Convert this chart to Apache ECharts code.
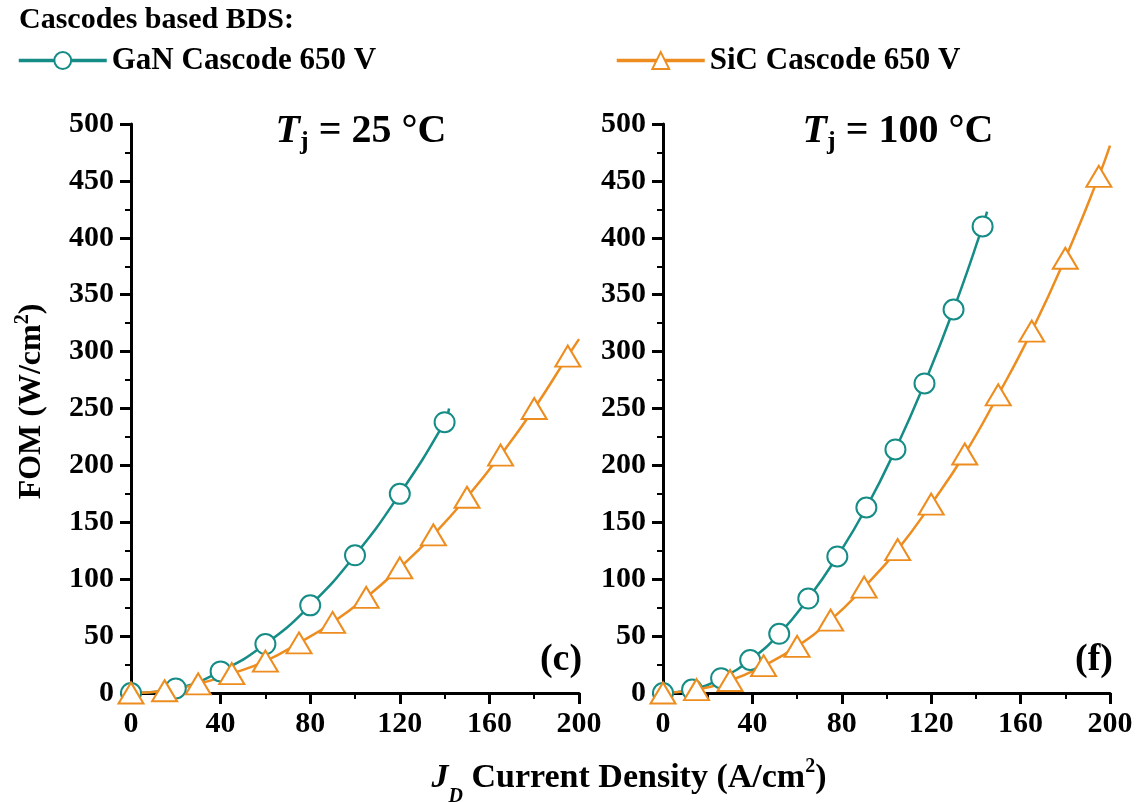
<!DOCTYPE html>
<html>
<head>
<meta charset="utf-8">
<script src="https://cdn.jsdelivr.net/npm/echarts@6/dist/echarts.min.js"></script>
<style>
html,body{margin:0;padding:0;background:#fff;}
#chart{width:1142px;height:802px;}
</style>
</head>
<body>
<div id="chart"></div>
<script>
// ---- Data ----
const seriesNames = ['GaN Cascode 650 V', 'SiC Cascode 650 V'];
const xTicks = [0, 40, 80, 120, 160, 200];
const yTicks = [0, 50, 100, 150, 200, 250, 300, 350, 400, 450, 500];

// Tj = 25 °C
const gan25X = [0, 20, 40, 60, 80, 100, 120, 140];
const gan25Y = [0, 4, 19, 43, 77, 121, 175, 238];
const gan25End = [142, 250];
const sic25X = [0, 15, 30, 45, 60, 75, 90, 105, 120, 135, 150, 165, 180, 195];
const sic25Y = [0, 2, 8, 17, 28, 44, 62, 84, 110, 139, 172, 209, 250, 296];
const sic25End = [200, 311];

// Tj = 100 °C
const gan100X = [0, 13, 26, 39, 52, 65, 78, 91, 104, 117, 130, 143];
const gan100Y = [0, 3, 13, 29, 52, 83, 120, 163, 214, 272, 337, 410];
const gan100End = [145, 423];
const sic100X = [0, 15, 30, 45, 60, 75, 90, 105, 120, 135, 150, 165, 180, 195];
const sic100Y = [0, 3, 11, 24, 41, 64, 93, 126, 166, 210, 262, 318, 382, 454];
const sic100End = [200, 481];

// ---- Styling ----
const FONT = "'Liberation Serif','Times New Roman',serif";
const TEAL = '#168c86';
const ORANGE = '#ee8d1f';

function buildData(xs, ys, end) {
  const d = xs.map((x, i) => [x, ys[i]]);
  d.push({ value: end, symbol: 'none' });
  return d;
}

function makeX(gridIndex) {
  return {
    type: 'value', gridIndex, min: 0, max: 200, interval: 40,
    axisLine: { show: true, onZero: false, lineStyle: { color: '#000', width: 3 } },
    axisTick: { show: true, length: 11, lineStyle: { color: '#000', width: 3 } },
    minorTick: { show: true, splitNumber: 2, length: 6, lineStyle: { color: '#000', width: 2 } },
    splitLine: { show: false },
    axisLabel: {
      margin: 16, color: '#000', fontFamily: FONT, fontWeight: 'bold', fontSize: 30,
      formatter: v => (xTicks.indexOf(v) >= 0 ? String(v) : '')
    }
  };
}
function makeY(gridIndex, withName) {
  const y = {
    type: 'value', gridIndex, min: 0, max: 500, interval: 50,
    axisLine: { show: true, onZero: false, lineStyle: { color: '#000', width: 3 } },
    axisTick: { show: true, length: 11, lineStyle: { color: '#000', width: 3 } },
    minorTick: { show: true, splitNumber: 2, length: 6, lineStyle: { color: '#000', width: 2 } },
    splitLine: { show: false },
    axisLabel: {
      margin: 17, color: '#000', fontFamily: FONT, fontWeight: 'bold', fontSize: 30,
      formatter: v => (yTicks.indexOf(v) >= 0 ? String(v) : '')
    }
  };
  if (withName) {
    y.name = '{t|FOM (W/cm}{s|2}{t|)}';
    y.nameLocation = 'middle';
    y.nameRotate = 90;
    y.nameGap = 80;
    y.nameTextStyle = {
      padding: [0, 0, 0, 14],
      rich: {
        t: { fontFamily: FONT, fontWeight: 'bold', fontSize: 32, color: '#000', lineHeight: 38 },
        s: { fontFamily: FONT, fontWeight: 'bold', fontSize: 20, color: '#000', lineHeight: 38, verticalAlign: 'top', padding: [0, 0, 12, 0] }
      }
    };
  }
  return y;
}

function lineSeries(name, color, symbol, size, xi, data) {
  return {
    name, type: 'line', xAxisIndex: xi, yAxisIndex: xi,
    data, smooth: true, clip: true,
    symbol, symbolSize: size, showSymbol: true,
    lineStyle: { color, width: 2.5 },
    itemStyle: { color: '#fff', borderColor: color, borderWidth: 2 },
    z: 3
  };
}

const titleRich = {
  T: { fontFamily: FONT, fontWeight: 'bold', fontStyle: 'italic', fontSize: 40, color: '#000', lineHeight: 46 },
  j: { fontFamily: FONT, fontWeight: 'bold', fontSize: 26, color: '#000', lineHeight: 46, verticalAlign: 'bottom' },
  n: { fontFamily: FONT, fontWeight: 'bold', fontSize: 40, color: '#000', lineHeight: 46 }
};

const legendCommon = {
  top: 40, orient: 'horizontal',
  itemWidth: 88, itemHeight: 21, itemGap: 10,
  lineStyle: { width: 3.5 },
  textStyle: { fontFamily: FONT, fontWeight: 'bold', fontSize: 31, color: '#000' }
};

const option = {
  backgroundColor: '#fff',
  animation: false,
  grid: [
    { left: 131, top: 124, width: 448, height: 569 },
    { left: 663, top: 124, width: 447, height: 569 }
  ],
  xAxis: [makeX(0), makeX(1)],
  yAxis: [makeY(0, true), makeY(1, false)],
  legend: [
    Object.assign({ data: [seriesNames[0]], left: 12 }, legendCommon),
    Object.assign({ data: [seriesNames[1]], left: 610 }, legendCommon)
  ],
  title: [
    { text: 'Cascodes based BDS:', left: 14, top: 0,
      textStyle: { fontFamily: FONT, fontWeight: 'bold', fontSize: 30, color: '#000' } },
    { text: '{T|T}{j|j}{n| = 25 °C}', left: 356, top: 104, textAlign: 'center',
      textStyle: { rich: titleRich } },
    { text: '{T|T}{j|j}{n| = 100 °C}', left: 893, top: 104, textAlign: 'center',
      textStyle: { rich: titleRich } },
    { text: '(c)', left: 556, top: 636, textAlign: 'center',
      textStyle: { fontFamily: FONT, fontWeight: 'bold', fontSize: 38, color: '#000' } },
    { text: '(f)', left: 1089, top: 636, textAlign: 'center',
      textStyle: { fontFamily: FONT, fontWeight: 'bold', fontSize: 38, color: '#000' } },
    { text: '{J|J}{D|D}{t| Current Density (A/cm}{s|2}{t|)}', left: 624, top: 752, textAlign: 'center',
      textStyle: { rich: {
        J: { fontFamily: FONT, fontWeight: 'bold', fontStyle: 'italic', fontSize: 34, color: '#000', lineHeight: 42 },
        D: { fontFamily: FONT, fontWeight: 'bold', fontStyle: 'italic', fontSize: 20, color: '#000', lineHeight: 42, verticalAlign: 'bottom', padding: [0, 0, -8, 0] },
        t: { fontFamily: FONT, fontWeight: 'bold', fontSize: 34, color: '#000', lineHeight: 42 },
        s: { fontFamily: FONT, fontWeight: 'bold', fontSize: 20, color: '#000', lineHeight: 42, verticalAlign: 'top', padding: [0, 0, 12, 0] }
      } } }
  ],
  series: [
    lineSeries(seriesNames[0], TEAL, 'circle', 20, 0, buildData(gan25X, gan25Y, gan25End)),
    lineSeries(seriesNames[1], ORANGE, 'triangle', [25, 21], 0, buildData(sic25X, sic25Y, sic25End)),
    lineSeries(seriesNames[0], TEAL, 'circle', 20, 1, buildData(gan100X, gan100Y, gan100End)),
    lineSeries(seriesNames[1], ORANGE, 'triangle', [25, 21], 1, buildData(sic100X, sic100Y, sic100End))
  ]
};

const chart = echarts.init(document.getElementById('chart'), null, { renderer: 'canvas' });
chart.setOption(option);
</script>
</body>
</html>
